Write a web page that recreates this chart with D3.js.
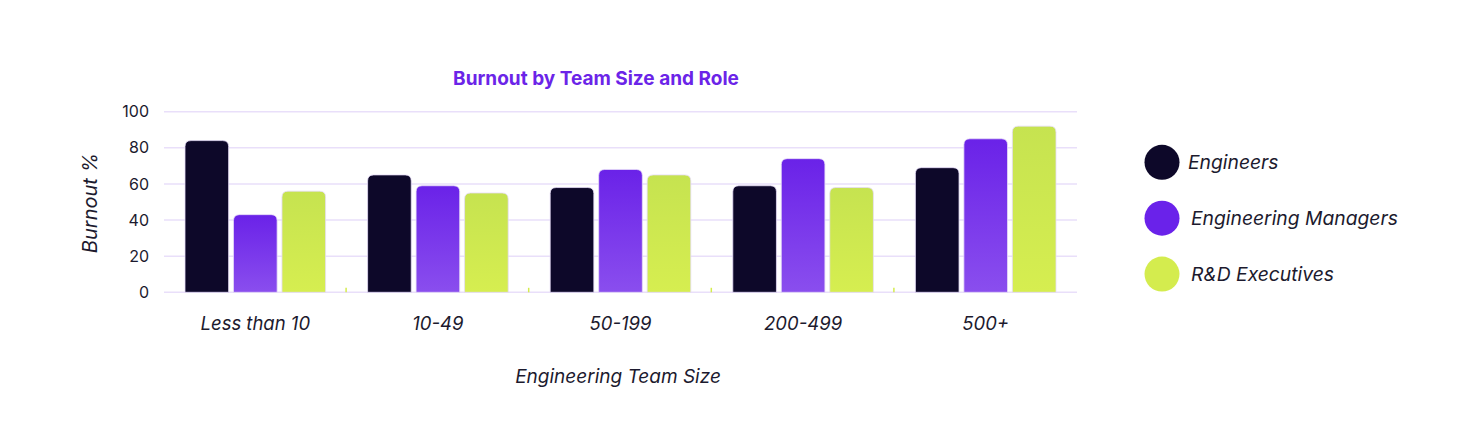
<!DOCTYPE html>
<html><head><meta charset="utf-8">
<script src="https://cdn.jsdelivr.net/npm/d3@7"></script>
<style>
html,body{margin:0;padding:0;background:#fff;}
svg{display:block;font-family:Inter,"Noto Sans",sans-serif;}
</style></head>
<body><svg id="c" width="1482" height="434"></svg>
<script>
const categories = ["Less than 10","10-49","50-199","200-499","500+"];
const seriesNames = ["Engineers","Engineering Managers","R&D Executives"];
const engineers = [84,65,58,59,69];
const managers = [43,59,68,74,85];
const executives = [56,55,65,58,92];
const yTicks = [0,20,40,60,80,100];

const seriesValues = [engineers, managers, executives];
const svg = d3.select("#c");
const m = {left:164, right:1077, top:111.7, bottom:292.3};

const defs = svg.append("defs");
const gm = defs.append("linearGradient").attr("id","gm").attr("x1",0).attr("y1",0).attr("x2",0).attr("y2",1);
gm.append("stop").attr("offset","0%").attr("stop-color","#6a22e8");
gm.append("stop").attr("offset","100%").attr("stop-color","#8a4eee");
const ge = defs.append("linearGradient").attr("id","ge").attr("x1",0).attr("y1",0).attr("x2",0).attr("y2",1);
ge.append("stop").attr("offset","0%").attr("stop-color","#c6e350");
ge.append("stop").attr("offset","100%").attr("stop-color","#d6ee50");
const fills = ["#0d0829","url(#gm)","url(#ge)"];
const legendColors = ["#0d0829","#6a22ea","#d4ec4e"];

const x0 = d3.scaleBand().domain(categories).range([m.left,m.right]).padding(0);
const inner = 21;
const x1 = d3.scaleBand().domain(seriesNames).range([inner, x0.bandwidth()-inner]).paddingInner(0.1).paddingOuter(0);
const y = d3.scaleLinear().domain([0,100]).range([m.bottom,m.top]);

// grid
svg.append("g").selectAll("line").data(yTicks).join("line")
  .attr("x1",m.left).attr("x2",m.right)
  .attr("y1",d=>y(d)).attr("y2",d=>y(d))
  .attr("stroke","#e9dffa").attr("stroke-width",1.5);

// y tick labels
svg.append("g").selectAll("text").data(yTicks).join("text")
  .attr("x",149).attr("y",d=>y(d)).attr("dy","0.35em")
  .attr("text-anchor","end").attr("font-size",16).attr("fill","#1c1a2e")
  .text(d=>d);

// small ticks at group boundaries
svg.append("g").selectAll("line").data(categories.slice(1)).join("line")
  .attr("x1",d=>x0(d)-0.5).attr("x2",d=>x0(d)-0.5)
  .attr("y1",m.bottom-4.5).attr("y2",m.bottom)
  .attr("stroke","#d4ec4e").attr("stroke-width",1.5);

// bars
const r = 6;
function barPath(x,w,yt,yb){
  const rr = Math.min(r, (yb-yt), w/2);
  return `M${x},${yb}V${yt+rr}Q${x},${yt} ${x+rr},${yt}H${x+w-rr}Q${x+w},${yt} ${x+w},${yt+rr}V${yb}Z`;
}
const barData = [];
categories.forEach((c,i)=>seriesNames.forEach((s,j)=>barData.push({c,s,j,v:seriesValues[j][i]})));
svg.append("g").selectAll("path").data(barData).join("path")
  .attr("d",d=>barPath(x0(d.c)+x1(d.s), x1.bandwidth(), y(d.v), y(0)))
  .attr("fill",d=>fills[d.j])
  .attr("stroke","#e6dcf8").attr("stroke-width",0.8);

// x labels
svg.append("g").selectAll("text").data(categories).join("text")
  .attr("x",d=>x0(d)+x0.bandwidth()/2).attr("y",330)
  .attr("text-anchor","middle").attr("font-size",18.5).attr("font-style","italic").attr("fill","#1c1a2e")
  .text(d=>d);

// axis titles
svg.append("text").attr("x",618).attr("y",383).attr("text-anchor","middle")
  .attr("font-size",19).attr("font-style","italic").attr("fill","#1c1a2e").text("Engineering Team Size");
svg.append("text").attr("transform","translate(97,203) rotate(-90)").attr("text-anchor","middle")
  .attr("font-size",20).attr("font-style","italic").attr("fill","#1c1a2e").text("Burnout %");

// title
svg.append("text").attr("x",596).attr("y",85).attr("text-anchor","middle")
  .attr("font-size",19).attr("font-weight",700).attr("fill","#6b24e8").text("Burnout by Team Size and Role");

// legend
const lg = svg.append("g").selectAll("g").data(seriesNames).join("g")
  .attr("transform",(d,i)=>`translate(1162,${162.3+i*55.9})`);
lg.append("circle").attr("r",17.5).attr("fill",(d,i)=>legendColors[i]);
lg.append("text").attr("x",(d,i)=>i===0?26:29).attr("dy","0.35em")
  .attr("font-size",19.3).attr("font-style","italic").attr("fill","#1c1a2e").text(d=>d);
</script></body></html>
